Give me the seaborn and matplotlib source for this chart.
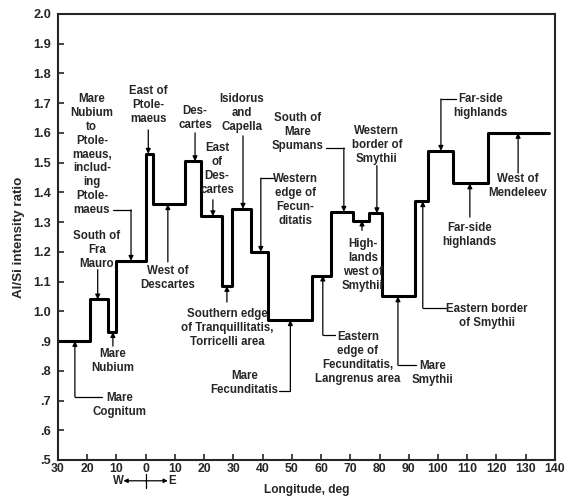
import matplotlib
matplotlib.use("Agg")
import matplotlib.pyplot as plt
import seaborn as sns
import pandas as pd

# step edges (longitude, deg; west negative) and Al/Si level of each segment
edges = [-30, -19, -13, -10, 0, 2.5, 13.5, 19, 26, 29.5, 36, 42, 57, 63.5,
         71, 76.5, 81, 92, 96.5, 105, 117, 138]
levels = [0.90, 1.04, 0.93, 1.17, 1.53, 1.36, 1.505, 1.32, 1.085, 1.345, 1.20,
          0.97, 1.12, 1.335, 1.305, 1.33, 1.05, 1.37, 1.54, 1.43, 1.60]

x_ticks = list(range(-30, 141, 10))
x_labels = [str(abs(v)) for v in x_ticks]
y_ticks = [0.5, 0.6, 0.7, 0.8, 0.9, 1.0, 1.1, 1.2, 1.3, 1.4, 1.5, 1.6, 1.7, 1.8, 1.9, 2.0]
y_labels = ['.5', '.6', '.7', '.8', '.9', '1.0', '1.1', '1.2', '1.3', '1.4',
            '1.5', '1.6', '1.7', '1.8', '1.9', '2.0']

# site labels: text, text position, leader path (last point touches the step)
sites = [
    ("Mare\nCognitum", (-8.8, 0.686), [(-15, 0.712), (-24.2, 0.712), (-24.2, 0.9)]),
    ("Mare\nNubium", (-11.2, 0.833), [(-11.2, 0.883), (-11.2, 0.93)]),
    ("South of\nFra\nMauro", (-16.7, 1.206), [(-16.4, 1.14), (-16.4, 1.04)]),
    ("Mare\nNubium\nto\nPtole-\nmaeus,\ninclud-\ning\nPtole-\nmaeus", (-18.4, 1.527),
     [(-11.2, 1.341), (-5.0, 1.341), (-5.0, 1.17)]),
    ("East of\nPtole-\nmaeus", (0.9, 1.694), [(0.9, 1.61), (0.9, 1.53)]),
    ("West of\nDescartes", (7.6, 1.112), [(7.6, 1.166), (7.6, 1.36)]),
    ("Des-\ncartes", (16.9, 1.65), [(16.9, 1.60), (16.9, 1.505)]),
    ("East\nof\nDes-\ncartes", (24.4, 1.479), [(23.0, 1.375), (23.0, 1.32)]),
    ("Southern edge\nof Tranquillitatis,\nTorricelli area", (27.8, 0.944),
     [(27.8, 1.031), (27.8, 1.085)]),
    ("Isidorus\nand\nCapella", (32.9, 1.667), [(33.3, 1.59), (33.3, 1.345)]),
    ("Western\nedge of\nFecun-\nditatis", (51.3, 1.374),
     [(43.9, 1.448), (39.4, 1.448), (39.4, 1.20)]),
    ("Mare\nFecunditatis", (33.8, 0.759), [(45.6, 0.732), (49.5, 0.732), (49.5, 0.97)]),
    ("South of\nMare\nSpumans", (52.1, 1.603), [(61.7, 1.549), (67.8, 1.549), (67.8, 1.335)]),
    ("High-\nlands\nwest of\nSmythii", (74.3, 1.156), [(74.0, 1.272), (74.0, 1.305)]),
    ("Western\nborder of\nSmythii", (79.1, 1.559), [(79.1, 1.49), (79.1, 1.33)]),
    ("Eastern\nedge of\nFecunditatis,\nLangrenus area", (72.6, 0.843),
     [(64.7, 0.92), (60.6, 0.92), (60.6, 1.12)]),
    ("Mare\nSmythii", (98.2, 0.792), [(92.4, 0.819), (86.3, 0.819), (86.3, 1.05)]),
    ("Eastern border\nof Smythii", (116.7, 0.984), [(102.7, 1.011), (94.8, 1.011), (94.8, 1.37)]),
    ("Far-side\nhighlands", (114.6, 1.69), [(106.1, 1.714), (101.0, 1.714), (101.0, 1.54)]),
    ("Far-side\nhighlands", (110.9, 1.257), [(110.9, 1.317), (110.9, 1.43)]),
    ("West of\nMendeleev", (127.4, 1.421), [(127.4, 1.465), (127.4, 1.60)]),
]

sns.set_style("ticks")
plt.rcParams['font.family'] = ['Liberation Sans', 'DejaVu Sans']
plt.rcParams['font.weight'] = 'bold'
fs = 8.3

df = pd.DataFrame({"lon": edges, "ratio": levels + [levels[-1]]})

fig = plt.figure(figsize=(5.68, 4.97), dpi=100)
ax = fig.add_axes([0.102, 0.0745, 0.875, 0.8974])
sns.lineplot(data=df, x="lon", y="ratio", drawstyle="steps-post", color="black",
             linewidth=2.2, ax=ax)

for label, (tx, ty), path in sites:
    ax.text(tx, ty, label, ha="center", va="center", fontsize=fs,
            linespacing=1.2)
    if len(path) > 2:
        xs = [p[0] for p in path[:-1]]
        ys = [p[1] for p in path[:-1]]
        ax.plot(xs, ys, color="black", lw=0.9)
    ax.annotate("", xy=path[-1], xytext=path[-2],
                arrowprops=dict(arrowstyle="-|>", color="black", lw=0.9,
                                mutation_scale=7, shrinkA=0, shrinkB=0))

ax.set_xlim(-30, 140)
ax.set_ylim(0.5, 2.0)
ax.set_xticks(x_ticks)
ax.set_xticklabels(x_labels, fontsize=8.8, fontweight="bold")
ax.set_yticks(y_ticks)
ax.set_yticklabels(y_labels, fontsize=9.2, fontweight="bold")
ax.tick_params(direction="in", length=4, width=1.2)
ax.tick_params(axis="x", pad=2)
ax.tick_params(axis="y", pad=5)
for s in ax.spines.values():
    s.set_linewidth(1.5)
    s.set_visible(True)

ax.set_xlabel("Longitude, deg", fontsize=8.6, fontweight="bold", labelpad=7)
ax.set_ylabel("Al/Si intensity ratio", fontsize=9.6, fontweight="bold", labelpad=6)

# W <-|-> E marker under the zero meridian
yw = 0.43
ax.text(-7.6, yw, "W", ha="right", va="center", fontsize=fs, clip_on=False)
ax.text(7.6, yw, "E", ha="left", va="center", fontsize=fs, clip_on=False)
for end in (-7.6, 7.6):
    ax.annotate("", xy=(end, yw), xytext=(0, yw), annotation_clip=False,
                arrowprops=dict(arrowstyle="-|>", color="black", lw=0.9,
                                mutation_scale=6, shrinkA=0, shrinkB=0))
ax.plot([0, 0], [0.452, 0.405], color="black", lw=0.9, clip_on=False)

fig.savefig("out.png", dpi=100)
